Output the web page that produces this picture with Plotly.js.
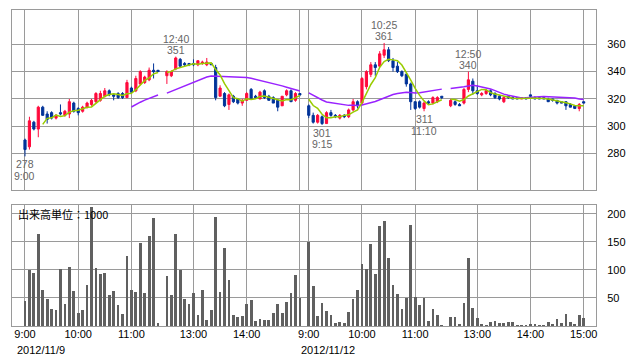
<!DOCTYPE html>
<html><head><meta charset="utf-8">
<script src="https://cdn.plot.ly/plotly-3.0.1.min.js"></script>
<style>html,body{margin:0;padding:0;background:#fff;}#chart{width:638px;height:362px;}</style>
</head><body><div id="chart"></div>
<script>
// ---- data ----
const dates = ["2012/11/9", "2012/11/12"];
const sessionTimes = ["9:00","9:05","9:10","9:15","9:20","9:25","9:30","9:35","9:40","9:45","9:50","9:55",
  "10:00","10:05","10:10","10:15","10:20","10:25","10:30","10:35","10:40","10:45","10:50","10:55",
  "11:00","11:05","11:10","11:15","11:20","11:25","11:30",
  "12:30","12:35","12:40","12:45","12:50","12:55",
  "13:00","13:05","13:10","13:15","13:20","13:25","13:30","13:35","13:40","13:45","13:50","13:55",
  "14:00","14:05","14:10","14:15","14:20","14:25","14:30","14:35","14:40","14:45","14:50","14:55","15:00"];

const open1  = [290,285,303,298,314,309,310,306,310,308,309,317,313,311,314,316,318,319,322,326,323,324,324,321,328,326,331,332,334,341,341,
                337,337,342,349,346,346,346,345,346,345,346,343,322,324,316,322,320,317,319,327,322,320,326,322,321,319,315,323,326,319,324];
const high1  = [291,307,304,315,315,311,311,309,316,312,320,318,314,315,318,320,325,326,328,327,324,325,325,334,329,337,341,337,343,346,341,
                341,341,351,350,347,346,349,348,348,350,346,345,330,325,324,323,320,320,325,328,323,326,327,323,322,320,322,327,327,325,324];
const low1   = [278,283,297,292,308,302,305,305,308,307,306,310,308,310,313,315,317,318,321,322,319,320,320,321,324,325,330,331,333,335,340,
                331,336,341,343,344,344,344,344,345,344,345,319,322,314,312,317,316,315,319,320,320,320,320,319,317,311,315,322,318,318,322];
const close1 = [283,304,298,314,308,305,306,308,309,311,318,311,310,314,317,319,324,324,326,323,322,321,321,332,325,335,340,336,341,340,340,
                340,340,350,344,345,345,345,348,347,347,345,321,328,315,323,318,317,319,324,320,321,325,321,319,317,314,322,326,318,324,323];
const vol1   = [45,100,95,165,64,48,30,29,102,39,105,62,23,29,73,213,103,93,95,55,62,37,21,125,64,61,148,59,161,193,5,
                89,55,165,100,48,39,59,20,64,11,29,195,61,139,82,20,16,18,39,46,9,12,11,11,23,39,23,43,59,91,50];

const open2  = [315,308,303,307,302,310,308,306,308,307,312,318,317,329,338,345,344,352,356,348,344,340,338,331,318,318,313,318,317,318,322,
                315,318,316,317,327,333,326,323,324,326,324,322,318,322,321,321,320,321,323,321,321,321,320,320,319,318,318,316,315,313,318];
const high2  = [316,310,309,308,311,312,309,309,309,313,320,319,336,341,347,347,355,361,358,350,347,341,339,332,318,319,318,319,322,322,322,
                320,319,317,328,340,335,330,325,327,327,325,323,322,322,322,321,321,321,323,322,321,321,321,320,319,318,318,317,315,317,318];
const low2   = [306,302,302,301,302,307,306,305,306,306,311,313,316,327,336,337,343,350,347,340,339,336,329,312,312,313,311,316,316,317,320,
                314,315,315,316,325,323,323,322,323,322,320,319,317,320,320,320,320,320,320,320,320,320,318,318,316,317,312,314,313,311,317];
const close2 = [308,303,308,302,310,308,307,308,307,312,318,315,335,340,345,343,353,356,348,343,340,337,331,318,313,314,317,317,321,321,321,
                319,316,315,327,334,326,324,324,326,323,321,320,321,321,320,320,321,320,322,320,320,320,318,319,317,317,315,314,313,316,317];
const vol2   = [150,71,18,41,27,20,5,7,5,25,48,64,111,102,146,93,178,187,121,73,57,30,50,180,52,38,50,9,31,19,2,
                16,16,4,41,121,32,14,4,2,7,9,5,5,7,7,2,2,2,4,4,2,2,7,4,12,5,21,7,4,20,14];

const tickTimes = ["9:00","10:00","11:00","13:00","14:00","15:00"];
const priceTicks = [280,300,320,340,360];
const volTicks = [50,100,150,200];
const volUnitLabel = "出来高単位：1000";

const labelDay   = [0, 0, 1, 1, 1, 1];
const labelTime  = ["9:00","12:40","9:15","10:25","11:10","12:50"];
const labelPrice = [278, 351, 301, 361, 311, 340];
const labelSide  = ["low","high","low","high","low","high"];

const shortMA = 5, longMA = 25;

// ---- position scale: 5-minute slots, one empty slot between sessions ----
function slotOf(dayIdx, t) {
  const p = t.split(":");
  const m = (+p[0]) * 60 + (+p[1]) - 540;
  const s = m <= 150 ? m / 5 : (m - 210) / 5 + 32;
  return dayIdx * 64 + s;
}

const days = [
  {o: open1, h: high1, l: low1, c: close1, v: vol1},
  {o: open2, h: high2, l: low2, c: close2, v: vol2}
];
const X = [], O = [], H = [], L = [], C = [], V = [];
days.forEach((d, di) => {
  sessionTimes.forEach((t, i) => {
    X.push(slotOf(di, t)); O.push(d.o[i]); H.push(d.h[i]); L.push(d.l[i]); C.push(d.c[i]); V.push(d.v[i]);
  });
});

// moving averages of close, drawn with breaks at session gaps
function maLine(n) {
  const xs = [], ys = [];
  for (let i = 0; i < C.length; i++) {
    if (i > 0 && X[i] - X[i - 1] > 1) { xs.push(X[i] - 1); ys.push(null); }
    if (i >= n - 1) {
      let s = 0; for (let k = i - n + 1; k <= i; k++) s += C[k];
      xs.push(X[i]); ys.push(s / n);
    } else { xs.push(X[i]); ys.push(null); }
  }
  return {xs, ys};
}
const ma5 = maLine(shortMA), ma25 = maLine(longMA);

const tickSlots = [], tickText = [];
[0, 1].forEach(di => tickTimes.forEach(t => {
  tickSlots.push(slotOf(di, t));
  tickText.push(di === 0 && t === "15:00" ? "" : t);
}));

const grid = '#9a9a9a';
const traces = [
  {type: 'candlestick', x: X, open: O, high: H, low: L, close: C, xaxis: 'x', yaxis: 'y',
   increasing: {line: {color: '#ff0a3c', width: 1}, fillcolor: '#ff0a3c'},
   decreasing: {line: {color: '#003399', width: 1}, fillcolor: '#003399'},
   whiskerwidth: 0, hoverinfo: 'skip'},
  {type: 'scatter', mode: 'lines', x: ma25.xs, y: ma25.ys, xaxis: 'x', yaxis: 'y',
   line: {color: '#9922ff', width: 1.5}, connectgaps: false, hoverinfo: 'skip'},
  {type: 'scatter', mode: 'lines', x: ma5.xs, y: ma5.ys, xaxis: 'x', yaxis: 'y',
   line: {color: '#99cc00', width: 1.5}, connectgaps: false, hoverinfo: 'skip'},
  {type: 'bar', x: X, y: V, xaxis: 'x2', yaxis: 'y2', width: 0.62,
   marker: {color: '#606060', line: {width: 0}}, hoverinfo: 'skip'}
];

const annotations = [];
const af = {family: 'Liberation Sans, Arial, sans-serif', size: 10.5, color: '#666'};
labelPrice.forEach((p, i) => {
  const x = slotOf(labelDay[i], labelTime[i]);
  const hi = labelSide[i] === 'high';
  annotations.push({xref: 'x', yref: 'y', x: x, y: p, text: String(p), showarrow: false,
    yanchor: hi ? 'bottom' : 'top', yshift: hi ? 0 : -1, borderpad: 0, font: af});
  annotations.push({xref: 'x', yref: 'y', x: x, y: p, text: labelTime[i], showarrow: false,
    yanchor: hi ? 'bottom' : 'top', yshift: hi ? 11 : -12.5, borderpad: 0, font: af});
});
dates.forEach((d, di) => {
  annotations.push({xref: 'x2', yref: 'paper', x: slotOf(di, "9:00"), y: -0.053, text: d,
    showarrow: false, xanchor: 'left', yanchor: 'top', xshift: -9, borderpad: 0,
    font: {family: 'Liberation Sans, Arial, sans-serif', size: 11, color: '#000'}});
});
annotations.push({xref: 'paper', yref: 'paper', x: 0.006, y: 0.353, text: volUnitLabel,
  showarrow: false, xanchor: 'left', yanchor: 'middle',
  font: {family: 'Noto Sans CJK JP, sans-serif', size: 11, color: '#000'}});

const xr = [-2.93, 128.78];
const axBase = {showgrid: true, gridcolor: grid, gridwidth: 1, showline: true, mirror: true,
  linecolor: grid, linewidth: 1, zeroline: false, fixedrange: true};
const layout = {
  width: 638, height: 362,
  margin: {l: 12, r: 42, t: 10, b: 36, pad: 0},
  paper_bgcolor: '#fff', plot_bgcolor: '#fff', showlegend: false,
  font: {family: 'Liberation Sans, Arial, sans-serif', size: 11, color: '#000'},
  xaxis: Object.assign({}, axBase, {domain: [0, 1], anchor: 'y', range: xr, tickvals: tickSlots,
    ticktext: tickText, showticklabels: false, ticks: '', rangeslider: {visible: false}}),
  yaxis: Object.assign({}, axBase, {domain: [0.4304, 1], anchor: 'x', side: 'right',
    range: [253.4, 385.1], tickvals: priceTicks, ticks: '', ticklabelstandoff: 8}),
  xaxis2: Object.assign({}, axBase, {domain: [0, 1], anchor: 'y2', range: xr, tickvals: tickSlots,
    ticktext: tickText, ticks: '', tickangle: 0, ticklabelstandoff: -2}),
  yaxis2: Object.assign({}, axBase, {domain: [0, 0.3829], anchor: 'x2', side: 'right',
    range: [0, 216], tickvals: volTicks, ticks: '', ticklabelstandoff: 8}),
  annotations: annotations,
  bargap: 0
};
Plotly.newPlot('chart', traces, layout, {staticPlot: true, displayModeBar: false});
</script>
</body></html>
